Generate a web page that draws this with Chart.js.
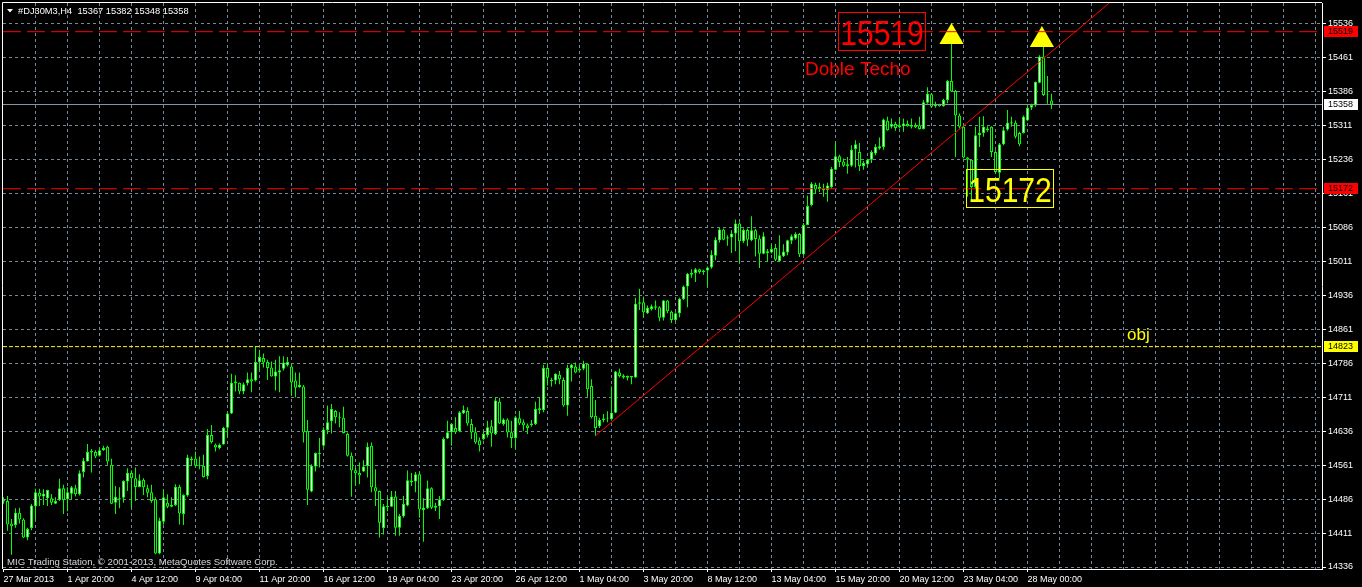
<!DOCTYPE html>
<html><head><meta charset="utf-8">
<script src="https://cdn.jsdelivr.net/npm/chart.js@4.4.1/dist/chart.umd.min.js"></script>
<style>html,body{margin:0;padding:0;background:#000;overflow:hidden}</style>
</head><body>
<canvas id="c" width="1362" height="587"></canvas>
<script>
// ---- DATA (H4 bars of #DJ30M3) ----
const opens = [14484,14482,14432,14429,14456,14441,14401,14422,14470,14500,
14492,14488,14488,14476,14484,14510,14486,14498,14510,14497,
14546,14569,14589,14590,14582,14594,14602,14562,14478,14488,
14489,14525,14544,14532,14513,14529,14510,14501,14486,14366,
14436,14478,14469,14473,14513,14453,14494,14576,14576,14560,
14560,14537,14628,14606,14599,14607,14644,14675,14742,14743,
14724,14742,14751,14748,14789,14798,14789,14777,14757,14766,
14774,14782,14779,14748,14733,14735,14637,14503,14558,14588,
14604,14639,14658,14681,14667,14666,14630,14582,14550,14544,
14547,14559,14604,14512,14504,14422,14471,14469,14492,14423,
14448,14472,14527,14525,14541,14462,14466,14510,14467,14470,
14484,14620,14634,14643,14636,14676,14681,14652,14634,14616,
14619,14628,14647,14630,14701,14652,14662,14634,14621,14665,
14656,14649,14650,14652,14683,14683,14776,14750,14748,14761,
14749,14693,14776,14779,14770,14774,14785,14736,14670,14647,
14661,14664,14663,14677,14766,14759,14754,14758,14755,14918,
14921,14897,14906,14912,14910,14887,14925,14900,14882,14897,
14928,14956,14982,14986,14994,14988,14991,14998,15024,15058,
15082,15062,15064,15073,15095,15056,15081,15058,15080,15062,
15028,15034,15031,15041,15012,15023,15031,15057,15062,15072,
15027,15092,15136,15180,15171,15172,15169,15176,15214,15244,
15232,15222,15223,15260,15253,15222,15226,15236,15250,15261,
15264,15322,15309,15315,15308,15310,15315,15309,15313,15312,
15304,15362,15381,15354,15359,15354,15368,15410,15388,15334,
15309,15241,15236,15176,15290,15295,15305,15309,15253,15207,
15270,15303,15319,15318,15295,15295,15323,15351,15356,15406,
15464,15379,15367];
const highs = [14490,14493,14442,14466,14467,14444,14423,14475,14509,14509,
14508,14507,14497,14490,14531,14518,14512,14515,14518,14549,
14577,14608,14597,14594,14599,14604,14604,14575,14515,14512,
14528,14554,14550,14556,14541,14532,14518,14518,14490,14445,
14508,14497,14490,14519,14518,14497,14584,14580,14591,14580,
14584,14641,14650,14609,14609,14646,14678,14763,14760,14744,
14744,14766,14766,14822,14816,14808,14794,14790,14794,14802,
14802,14800,14785,14766,14766,14738,14661,14563,14589,14621,
14645,14693,14696,14683,14678,14690,14633,14589,14556,14567,
14572,14611,14611,14552,14505,14475,14490,14504,14504,14453,
14493,14549,14544,14546,14546,14488,14527,14512,14478,14493,
14622,14659,14653,14667,14681,14693,14689,14663,14645,14622,
14637,14659,14661,14710,14710,14665,14665,14659,14670,14681,
14662,14653,14661,14701,14711,14783,14785,14754,14764,14769,
14755,14783,14785,14788,14782,14792,14787,14751,14705,14666,
14674,14680,14735,14769,14774,14762,14759,14758,14931,14951,
14934,14914,14916,14925,14912,14926,14926,14903,14899,14931,
14958,14986,14994,14997,14995,14993,15000,15036,15065,15085,
15084,15069,15080,15104,15098,15084,15084,15111,15083,15069,
15076,15039,15050,15050,15069,15049,15059,15071,15076,15074,
15096,15157,15187,15185,15185,15183,15185,15220,15275,15247,
15239,15242,15268,15279,15273,15233,15238,15257,15270,15285,
15327,15331,15327,15320,15329,15327,15323,15327,15318,15331,
15368,15396,15383,15364,15360,15371,15412,15519,15390,15338,
15312,15242,15236,15309,15331,15332,15310,15310,15257,15273,
15309,15346,15331,15323,15298,15334,15354,15360,15409,15467,
15508,15421,15382];
const lows = [14476,14416,14363,14423,14432,14400,14395,14417,14438,14471,
14473,14471,14473,14475,14482,14453,14459,14486,14492,14494,
14534,14569,14545,14577,14580,14593,14562,14475,14453,14466,
14478,14504,14466,14482,14512,14495,14490,14478,14364,14364,
14430,14466,14468,14471,14430,14429,14491,14560,14556,14552,
14534,14530,14609,14591,14596,14606,14622,14674,14724,14718,
14718,14737,14722,14746,14770,14777,14749,14757,14726,14722,
14770,14779,14715,14711,14732,14611,14473,14501,14547,14556,
14602,14630,14631,14653,14645,14631,14580,14491,14515,14519,
14546,14534,14501,14471,14401,14408,14459,14469,14405,14405,
14445,14470,14515,14501,14445,14392,14464,14464,14460,14442,
14482,14619,14604,14630,14634,14674,14648,14619,14608,14591,
14616,14622,14602,14628,14652,14648,14622,14599,14597,14650,
14637,14630,14646,14650,14674,14678,14737,14735,14740,14740,
14690,14670,14746,14764,14766,14771,14712,14665,14626,14643,
14656,14656,14660,14676,14755,14752,14748,14740,14754,14904,
14888,14895,14903,14904,14879,14881,14897,14875,14879,14888,
14926,14910,14975,14966,14984,14982,14956,14995,15014,15053,
15058,15046,15030,15034,15008,15052,15045,15056,15022,14997,
15027,15010,15029,15012,15010,15021,15025,15050,15059,15021,
15025,15091,15133,15161,15165,15154,15143,15172,15213,15220,
15220,15205,15220,15219,15211,15214,15220,15229,15246,15258,
15258,15300,15305,15300,15305,15298,15309,15305,15306,15303,
15303,15360,15351,15351,15353,15353,15361,15386,15242,15305,
15239,15154,15146,15172,15264,15287,15298,15242,15205,15195,
15268,15300,15309,15283,15266,15294,15322,15346,15353,15405,
15377,15360,15348];
const closes = [14481,14430,14426,14456,14441,14401,14420,14472,14501,14492,
14498,14506,14478,14482,14510,14484,14501,14512,14497,14543,
14571,14590,14593,14580,14594,14599,14569,14476,14491,14485,
14526,14544,14532,14513,14528,14512,14500,14482,14366,14439,
14490,14469,14473,14513,14454,14495,14578,14572,14560,14562,
14535,14628,14612,14600,14606,14644,14675,14743,14746,14724,
14740,14751,14746,14789,14800,14788,14776,14757,14768,14771,
14788,14789,14744,14732,14738,14633,14507,14560,14588,14586,
14640,14656,14685,14667,14665,14632,14582,14549,14543,14538,
14558,14602,14512,14503,14434,14470,14468,14492,14423,14449,
14475,14528,14524,14541,14463,14467,14510,14467,14471,14486,
14619,14634,14652,14634,14678,14683,14653,14633,14611,14605,
14630,14645,14631,14704,14653,14662,14633,14621,14667,14653,
14649,14643,14653,14685,14687,14776,14754,14747,14763,14751,
14693,14776,14783,14766,14774,14785,14729,14667,14643,14661,
14664,14663,14677,14768,14758,14755,14758,14755,14918,14921,
14899,14909,14912,14909,14887,14925,14901,14882,14897,14929,
14956,14984,14986,14994,14988,14991,14998,15026,15059,15082,
15059,15065,15073,15095,15056,15081,15059,15080,15061,15028,
15067,15030,15039,15015,15025,15033,15058,15067,15072,15027,
15092,15134,15183,15170,15176,15168,15179,15216,15244,15231,
15223,15226,15258,15270,15222,15229,15236,15253,15264,15266,
15325,15301,15315,15306,15312,15316,15310,15313,15308,15304,
15363,15382,15353,15359,15354,15368,15410,15387,15334,15309,
15241,15236,15176,15290,15295,15309,15301,15253,15209,15270,
15301,15318,15316,15287,15270,15331,15351,15357,15408,15464,
15379,15380,15358];
// x tick labels: one every 16 bars, starting at bar 0
const dateLabels = ["27 Mar 2013","1 Apr 20:00","4 Apr 12:00","9 Apr 04:00","11 Apr 20:00",
"16 Apr 12:00","19 Apr 04:00","23 Apr 20:00","26 Apr 12:00","1 May 04:00","3 May 20:00",
"8 May 12:00","13 May 04:00","15 May 20:00","20 May 12:00","23 May 04:00","28 May 00:00"];
const priceTicks = [14336,14411,14486,14561,14636,14711,14786,14861,14936,15011,15086,15161,15236,15311,15386,15461,15536];
// horizontal price levels
const levelValues = [15519, 15358, 15172, 14823];
// trend line: [bar index, price] of its two ends
const trendFrom = [148, 14626];
const trendTo = [276.4, 15582];
// up-arrow marks: bar index / price
const arrowBars = [237, 259.6];
const arrowPrices = [15507, 15500.5];
const symbolText = "#DJ30M3,H4  15367 15382 15348 15358";
const copyrightText = "MIG Trading Station, \u00a9 2001-2013, MetaQuotes Software Corp.";

// ---- VIEW / STYLE ----
const xMin = -0.125, xMax = 329.625, yMin = 14331.6, yMax = 15582.4;
const FONT = '"Liberation Sans", Arial, sans-serif';
const LIME = '#00ff00', GRID = '#778899';
const levelStyles = [
  {line:'#ff0000', dash:[18,6], box:'#ff0000'},
  {line:'#8c99a6', dash:[], box:'#ffffff'},
  {line:'#ff0000', dash:[18,6], box:'#ff0000'},
  {line:'#ffff00', dash:[4,2], box:'#ffff00'}
];
const notes = [
  {text:'15519', x:219.625, y:15519.4, kind:'box', color:'#ff0000'},
  {text:'15172', x:251.625, y:15172.9, kind:'box', color:'#ffff00'},
  {text:'Doble Techo', x:200.375, y:15423.3, kind:'text', color:'#ff0000', size:19},
  {text:'obj', x:280.9, y:14837.7, kind:'text', color:'#ffff00', size:17}
];

const idx = opens.map((_, i) => i);
const datasets = [];
levelValues.forEach((v, k) => {
  datasets.push({type:'line', data:[{x:xMin, y:v},{x:xMax, y:v}], borderColor:levelStyles[k].line,
    borderDash:levelStyles[k].dash, borderWidth:1, pointRadius:0, order:0});
});
datasets.push({type:'line', data:[{x:trendFrom[0], y:trendFrom[1]},{x:trendTo[0], y:trendTo[1]}],
  borderColor:'#ff0000', borderWidth:1, pointRadius:0, order:0});
datasets.push({type:'line', data:arrowBars.map((b,k)=>({x:b, y:arrowPrices[k]})), showLine:false,
  pointStyle:'triangle', pointRadius:14, pointBackgroundColor:'#ffff00', pointBorderWidth:0, pointBorderColor:'#ffff00', order:0});
datasets.push({type:'bar', data: idx.map(i => ({x:i, y:[opens[i], closes[i]]})),
  backgroundColor: idx.map(i => closes[i] > opens[i] ? '#ffffff' : '#000000'),
  borderColor: LIME, borderWidth:1, borderSkipped:false, barThickness:3, grouped:false, inflateAmount:0, order:1});
datasets.push({type:'bar', data: idx.map(i => ({x:i, y:[lows[i], highs[i]]})),
  backgroundColor: LIME, borderWidth:0, barThickness:1, grouped:false, inflateAmount:0, order:2});

const overlay = {
  id:'overlay',
  beforeDraw(chart){ const c = chart.ctx; c.save(); c.fillStyle='#000'; c.fillRect(0,0,chart.width,chart.height); c.restore(); },
  afterDraw(chart){
    const ctx = chart.ctx, xs = chart.scales.x, ys = chart.scales.y, a = chart.chartArea;
    ctx.save();
    ctx.strokeStyle = '#ffffff'; ctx.lineWidth = 1;
    ctx.beginPath(); ctx.moveTo(a.left-0.5, a.bottom); ctx.lineTo(a.left-0.5, a.top-0.5); ctx.lineTo(a.right, a.top-0.5); ctx.stroke();
    notes.forEach(n => {
      const px = xs.getPixelForValue(n.x), py = ys.getPixelForValue(n.y);
      ctx.fillStyle = n.color; ctx.strokeStyle = n.color;
      if (n.kind === 'box') {
        ctx.strokeRect(Math.round(px-44)+0.5, Math.round(py-19.5)+0.5, 87, 38);
        ctx.save(); ctx.translate(px, py+13.5); ctx.scale(0.86, 1);
        ctx.font = '35px ' + FONT; ctx.textAlign='center'; ctx.textBaseline='alphabetic';
        ctx.fillText(n.text, 0, 0); ctx.restore();
      } else {
        ctx.font = n.size + 'px ' + FONT; ctx.textAlign='left'; ctx.textBaseline='alphabetic';
        ctx.fillText(n.text, px, py);
      }
    });
    levelValues.forEach((v, k) => {
      const py = Math.round(ys.getPixelForValue(v));
      ctx.fillStyle = levelStyles[k].box;
      ctx.fillRect(a.right+2, py-6, 34, 11);
      ctx.fillStyle = '#000'; ctx.font = '9px ' + FONT; ctx.textAlign='left'; ctx.textBaseline='middle';
      ctx.fillText(String(v), a.right+6, py);
    });
    ctx.fillStyle = '#ffffff';
    ctx.beginPath(); ctx.moveTo(7,9); ctx.lineTo(13,9); ctx.lineTo(10,12.5); ctx.closePath(); ctx.fill();
    ctx.font = '9.3px ' + FONT; ctx.textAlign='left'; ctx.textBaseline='alphabetic';
    ctx.fillText(symbolText, 18, 14);
    ctx.font = '9.6px ' + FONT;
    ctx.fillStyle = '#d8d8d8';
    ctx.fillText(copyrightText, 7, 565);
    ctx.restore();
  }
};

new Chart(document.getElementById('c'), {
  type:'bar',
  data:{ datasets },
  plugins:[overlay],
  options:{
    responsive:false, animation:false, devicePixelRatio:1, events:[],
    layout:{ autoPadding:false, padding:{left:3, top:3, right:0, bottom:0} },
    plugins:{ legend:{display:false}, tooltip:{enabled:false} },
    scales:{
      x:{ type:'linear', min:xMin, max:xMax, offset:false, position:'bottom',
        afterBuildTicks: s => { const t=[]; for (let i=0;i<=328;i+=8) t.push({value:i}); s.ticks=t; },
        ticks:{ autoSkip:false, maxRotation:0, minRotation:0, align:'start', color:'#ffffff',
          font:{family:FONT, size:9}, padding:2,
          callback: v => (v % 16 === 0 && v/16 < dateLabels.length) ? dateLabels[v/16] : '' },
        grid:{ offset:false, lineWidth:1, tickLength:3,
          color: c => (c.tick && c.tick.value === 0) ? 'rgba(0,0,0,0)' : GRID,
          tickColor: c => (c.tick && c.tick.value % 16 === 0 && c.tick.value/16 < dateLabels.length) ? '#ffffff' : 'rgba(0,0,0,0)' },
        border:{ display:true, color:'#ffffff', dash:[3,3] },
        afterFit: s => { s.height = 18; s.paddingLeft = 0; s.paddingRight = 0; }
      },
      y:{ type:'linear', position:'right', min:yMin, max:yMax, beginAtZero:false,
        afterBuildTicks: s => { s.ticks = priceTicks.map(v => ({value:v})); },
        ticks:{ color:'#ffffff', font:{family:FONT, size:9}, padding:2, callback: v => String(v) },
        grid:{ color:GRID, tickColor:'#ffffff', tickLength:4, lineWidth:1 },
        border:{ display:true, color:'#ffffff', dash:[3,3] },
        afterFit: s => { s.width = 40; s.paddingTop = 0; s.paddingBottom = 0; }
      }
    }
  }
});
</script>
</body></html>
